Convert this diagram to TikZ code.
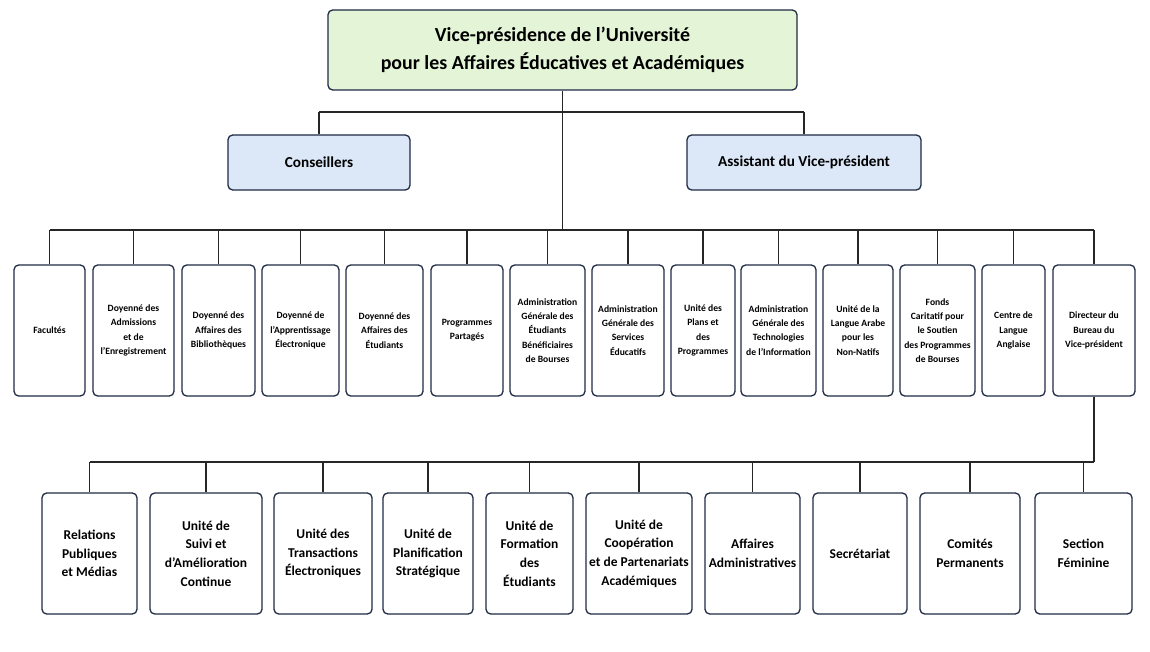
\documentclass[tikz,border=0pt]{standalone}
\usepackage{fontspec}
\setmainfont{Carlito}
\definecolor{navy}{HTML}{1f2a44}
\definecolor{topgreen}{HTML}{e4f4d6}
\definecolor{subblue}{HTML}{dce7f7}
\tikzset{
  box/.style={rounded corners=4pt, draw=navy, line width=1.1pt, fill=white, align=center, inner sep=1pt},
  unit/.style={box, font=\fontsize{8.2}{12.2}\selectfont\bfseries},
  section/.style={box, font=\fontsize{11.5}{16}\selectfont\bfseries},
  link/.style={line width=1.1pt, draw=black!85}
}
\begin{document}
\begin{tikzpicture}[x=0.03cm, y=-0.03cm]
\useasboundingbox (0,0) rectangle (1150,652);

\node [box, fill=topgreen, minimum width=469*0.03cm, minimum height=80*0.03cm,
  font=\fontsize{17}{24}\selectfont\bfseries] (vp) at (562.5,50)
  {Vice-présidence de l’Université\\pour les Affaires Éducatives et Académiques};
\node [box, fill=subblue, minimum width=182*0.03cm, minimum height=55*0.03cm,
  font=\fontsize{13}{15}\selectfont\bfseries] (cons) at (319,162.5) {Conseillers};
\node [box, fill=subblue, minimum width=234*0.03cm, minimum height=55*0.03cm,
  font=\fontsize{13}{15}\selectfont\bfseries] (asst) at (804,162.5) {Assistant du Vice-président};

% first row of units
\foreach \n/\cx/\w/\txt in {
  1/49.5/71/{Facultés},
  2/133.5/81/{Doyenné des\\Admissions\\et de\\l’Enregistrement},
  3/218.5/73/{Doyenné des\\Affaires des\\Bibliothèques},
  4/300.5/77/{Doyenné de\\l’Apprentissage\\Électronique},
  5/384.5/77/{Doyenné des\\Affaires des\\Étudiants},
  6/467/72/{Programmes\\Partagés},
  7/547.5/75/{Administration\\Générale des\\Étudiants\\Bénéficiaires\\de Bourses},
  8/628/72/{Administration\\Générale des\\Services\\Éducatifs},
  9/703/64/{Unité des\\Plans et\\des\\Programmes},
  10/778.5/75/{Administration\\Générale des\\Technologies\\de l’Information},
  11/858/70/{Unité de la\\Langue Arabe\\pour les\\Non-Natifs},
  12/937.5/75/{Fonds\\Caritatif pour\\le Soutien\\des Programmes\\de Bourses},
  13/1013.5/63/{Centre de\\Langue\\Anglaise},
  14/1094/82/{Directeur du\\Bureau du\\Vice-président}}
  \node [unit, minimum width=\w*0.03cm, minimum height=131*0.03cm] (u\n) at (\cx,330.5) {\txt};

% second row, under the director
\foreach \n/\cx/\w/\txt in {
  1/89.5/95/{Relations\\Publiques\\et Médias},
  2/206/112/{Unité de\\Suivi et\\d’Amélioration\\Continue},
  3/323/98/{Unité des\\Transactions\\Électroniques},
  4/428/90/{Unité de\\Planification\\Stratégique},
  5/529.5/87/{Unité de\\Formation\\des\\Étudiants},
  6/639/106/{Unité de\\Coopération\\et de Partenariats\\Académiques},
  7/752.5/95/{Affaires\\Administratives},
  8/860/94/{Secrétariat},
  9/970/100/{Comités\\Permanents},
  10/1083.5/97/{Section\\Féminine}}
  \node [section, minimum width=\w*0.03cm, minimum height=121*0.03cm] (s\n) at (\cx,553.5) {\txt};

\coordinate (top) at (562.5,112);
\coordinate (bus) at (562.5,230);
\coordinate (lower) at (1094,462);

\draw [link] (vp.south) -- (top);
\draw [link] (top -| cons) -- (top -| asst);
\draw [link] (top -| cons) -- (cons.north);
\draw [link] (top -| asst) -- (asst.north);
\draw [link] (top) -- (bus);
\draw [link] (bus -| u1) -- (bus -| u14);
\foreach \n in {1,...,14}
  \draw [link] (bus -| u\n) -- (u\n.north);
\draw [link] (u14.south) -- (lower);
\draw [link] (lower -| s1) -- (lower);
\foreach \n in {1,...,10}
  \draw [link] (lower -| s\n) -- (s\n.north);

\end{tikzpicture}
\end{document}
